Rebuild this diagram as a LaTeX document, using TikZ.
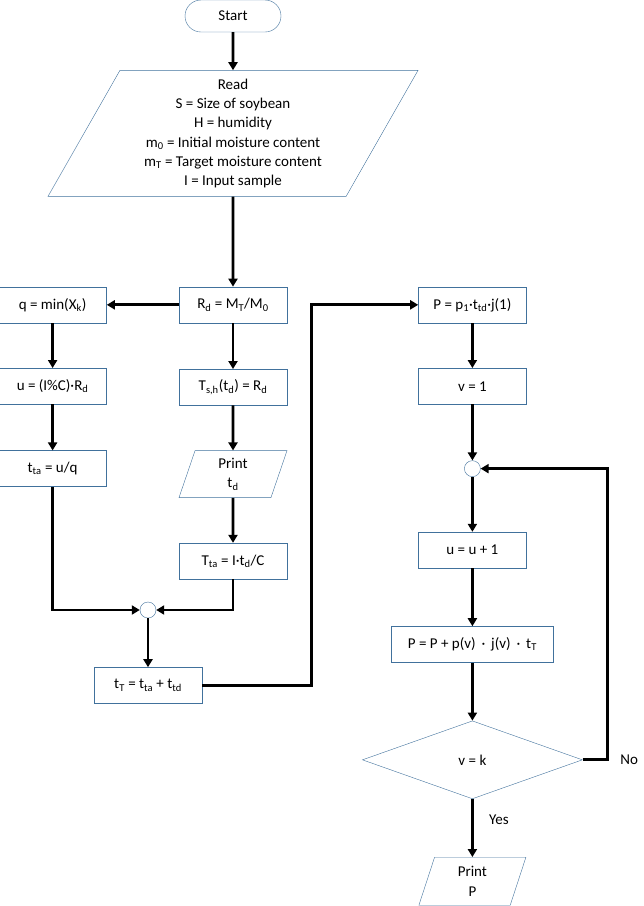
\documentclass[tikz,border=0pt]{standalone}
\usepackage{fontspec}
\setmainfont{Carlito}
\usepackage{tikz}
\usetikzlibrary{arrows.meta,positioning,shapes.geometric}
\definecolor{edgeblue}{RGB}{65,113,156}
\newcommand{\ssub}[1]{\textsubscript{#1}}

\begin{document}
\begin{tikzpicture}[
  x=1pt, y=-1pt,
  font=\fontsize{15}{19.3}\selectfont,
  box/.style={draw=edgeblue, align=center, minimum width=108pt, minimum height=36pt, inner sep=2pt},
  term/.style={box, rounded corners=16pt, minimum width=96pt, minimum height=32pt},
  io/.style={draw=edgeblue, trapezium, trapezium stretches body, align=center, inner sep=2pt},
  decision/.style={draw=edgeblue, diamond, aspect=2.82, minimum width=220pt, minimum height=78pt, inner sep=0pt},
  junction/.style={draw=edgeblue, fill=white, circle, minimum size=16pt, inner sep=0pt},
  flow/.style={line width=2.8pt, -{Triangle[length=8pt,width=9pt]}}
]
  \useasboundingbox (0,0) rectangle (644,906);
  \node[term] (start) at (233,16) {Start};
  \node[io, below=38pt of start, minimum width=370pt, minimum height=126pt,
        trapezium left angle=57.6, trapezium right angle=122.4] (read)
    {Read\\S = Size of soybean\\H = humidity\\m\ssub{0} = Initial moisture content\\m\ssub{T} = Target moisture content\\I = Input sample};
  \node[box, below=90pt of read] (rd) {R\ssub{d} = M\ssub{T}/M\ssub{0}};
  \node[box, left=72pt of rd] (q) {q = min(X\ssub{k})};
  \node[box, below=45pt of q] (u) {u = (I\%C)·R\ssub{d}};
  \node[box, below=46pt of u] (tta) {t\ssub{ta} = u/q};
  \node[box, below=46pt of rd] (tsh) {T\ssub{s,h}(t\ssub{d}) = R\ssub{d}};
  \node[io, below=45pt of tsh, minimum width=108pt, minimum height=47pt,
        trapezium left angle=66, trapezium right angle=114] (prtd) {Print\\t\ssub{d}};
  \node[box, below=45pt of prtd] (Tta) {T\ssub{ta} = I·t\ssub{d}/C};
  \node[junction] (j1) at (148,610) {};
  \node[box, below=49pt of j1] (tT) {t\ssub{T} = t\ssub{ta} + t\ssub{td}};
  \node[box, right=131pt of rd] (p1) {P = p\ssub{1}·t\ssub{td}·j(1)};
  \node[box, below=45pt of p1] (v1) {v = 1};
  \node[junction, below=56pt of v1] (j2) {};
  \node[box, below=55pt of j2] (uinc) {u = u + 1};
  \node[box, below=58pt of uinc, minimum width=162pt] (pp) {P = P + p(v) \,·\, j(v) \,·\, t\ssub{T}};
  \node[decision, below=58pt of pp] (vk) {v = k};
  \node[io, below=58pt of vk, minimum width=107pt, minimum height=48pt,
        trapezium left angle=65, trapezium right angle=115] (prp) {Print\\P};
  % left branch and merge
  \draw[flow] (start) -- (read);
  \draw[flow] (read) -- (rd);
  \draw[flow] (rd) -- (q);
  \draw[flow] (q) -- (u);
  \draw[flow] (u) -- (tta);
  \draw[flow] (rd) -- (tsh);
  \draw[flow] (tsh) -- (prtd);
  \draw[flow] (prtd) -- (Tta);
  \draw[flow] (tta.south) |- (j1.west);
  \draw[flow] (Tta.south) |- (j1.east);
  \draw[flow] (j1) -- (tT);
  \draw[flow] (tT.east) -- ++(109,0) |- (p1.west);
  % loop
  \draw[flow] (p1) -- (v1);
  \draw[flow] (v1) -- (j2);
  \draw[flow] (j2) -- (uinc);
  \draw[flow] (uinc) -- (pp);
  \draw[flow] (pp) -- (vk);
  \draw[flow] (vk) -- node[pos=0.36, right=12pt] {Yes} (prp);
  \draw[flow] (vk.east) -- ++(25,0) node[right=8pt] {No} |- (j2.east);
\end{tikzpicture}
\end{document}
